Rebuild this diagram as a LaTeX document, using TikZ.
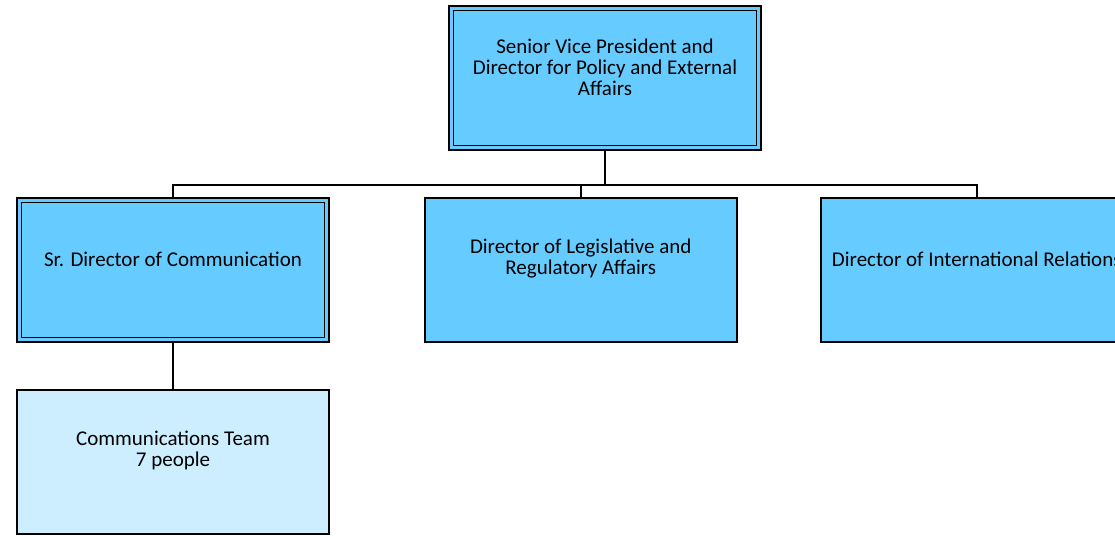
\documentclass[tikz,border=0pt]{standalone}
\usepackage{fontspec}
\setmainfont{Carlito}
\usetikzlibrary{positioning, backgrounds}
\definecolor{boxblue}{HTML}{66CCFF}
\definecolor{teamblue}{HTML}{CCEEFF}
\tikzset {
    every label/.style={align=center, font=\fontsize{21}{21}\selectfont, yshift=11pt},
    orgbox/.style={draw, line width=1.6pt, fill=boxblue, minimum width=312pt, minimum height=144pt, inner sep=0pt, outer sep=0pt},
    headbox/.style={orgbox, double=boxblue, double distance=2.8pt, minimum width=307.5pt, minimum height=139.5pt},
    teambox/.style={orgbox, fill=teamblue},
    link/.style={line width=1.6pt}
}

\begin{document}
\begin{tikzpicture}[x=1pt, y=-1pt]
    \useasboundingbox (0,0) rectangle (1115,535);
    \node[headbox, label=center:{Senior Vice President and\\Director for Policy and External\\Affairs}] (svp) at (605,78) {};
    \node[headbox, label=center:{Sr. Director of Communication}] (comm) at (173,270) {};
    \node[orgbox, right=98pt of comm, label=center:{Director of Legislative and\\Regulatory Affairs}] (legis) {};
    \node[orgbox, right=84pt of legis, label=center:{Director of International Relations}] (intl) {};
    \node[teambox, below=50pt of comm, label=center:{Communications Team\\7 people}] (team) {};
    \coordinate (bus) at (605,185);

    \begin{scope}[on background layer]
        \draw[link] (svp.south) -- (bus);
        \draw[link] (comm.north) |- (bus) -| (intl.north);
        \draw[link] (legis.north) -- (legis.north |- bus);
        \draw[link] (comm.south) -- (team.north);
    \end{scope}
\end{tikzpicture}
\end{document}
